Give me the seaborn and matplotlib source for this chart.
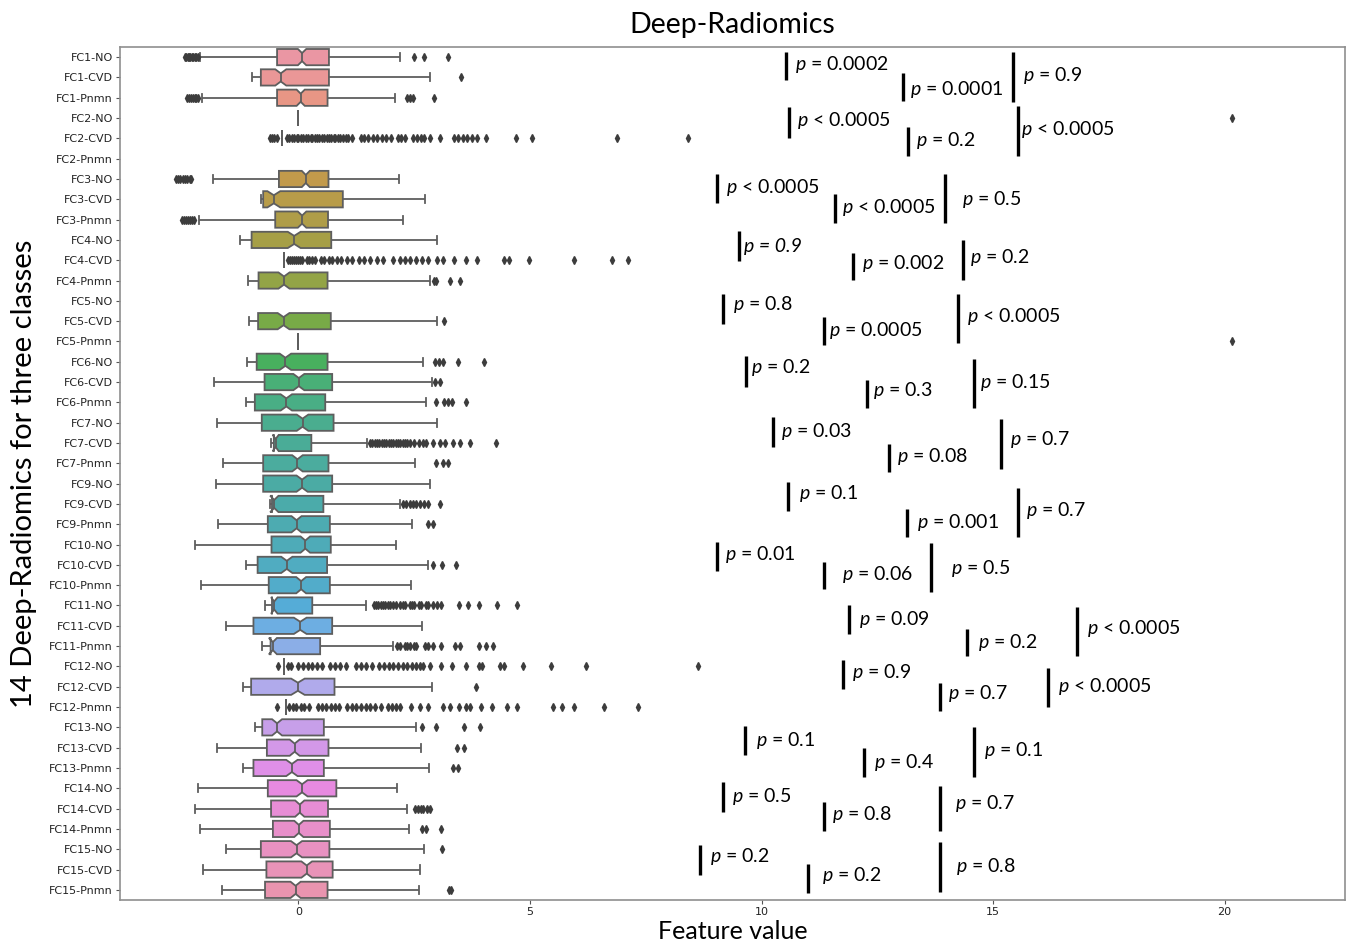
import numpy as np
import pandas as pd
import matplotlib
matplotlib.use('Agg')
import matplotlib.pyplot as plt
import seaborn as sns

features = ['FC1', 'FC2', 'FC3', 'FC4', 'FC5', 'FC6', 'FC7',
            'FC9', 'FC10', 'FC11', 'FC12', 'FC13', 'FC14', 'FC15']
classes = ['NO', 'CVD', 'Pnmn']
categories = [f'{f}-{c}' for f in features for c in classes]

nan = np.nan
# five-number summaries (whisker low, Q1, median, Q3, whisker high)
whis_low = [-2.13, -1.00, -2.08, 0.0, -0.35, nan, -1.84, -0.81, -2.15, -1.25, -0.31, -1.08,
            nan, -1.07, 0.0, -1.10, -1.83, -1.14, -1.76, -0.60, -1.62, -1.77, -0.62, -1.74,
            -2.24, -1.12, -2.10, -0.71, -1.56, -0.78, -0.30, -1.20, -0.26, -0.94, -1.76, -1.20,
            -2.17, -2.24, -2.13, -1.56, -2.07, -1.64]
q1 = [-0.46, -0.81, -0.46, 0.0, -0.35, nan, -0.42, -0.76, -0.50, -1.01, -0.31, -0.86,
      nan, -0.87, 0.0, -0.90, -0.73, -0.94, -0.79, -0.53, -0.76, -0.76, -0.57, -0.66,
      -0.58, -0.88, -0.64, -0.57, -0.97, -0.60, -0.30, -1.02, -0.26, -0.78, -0.68, -0.97,
      -0.66, -0.59, -0.55, -0.81, -0.69, -0.72]
median = [0.08, -0.38, 0.05, 0.0, -0.35, nan, 0.16, -0.53, 0.08, -0.09, -0.31, -0.31,
          nan, -0.32, 0.0, -0.28, 0.01, -0.26, 0.09, -0.49, -0.02, 0.08, -0.52, -0.04,
          0.15, -0.25, 0.06, -0.52, 0.04, -0.55, -0.30, -0.01, -0.26, -0.46, -0.08, -0.14,
          0.08, 0.03, 0.01, -0.04, 0.18, -0.06]
q3 = [0.66, 0.66, 0.63, 0.0, -0.35, nan, 0.65, 0.96, 0.64, 0.71, -0.31, 0.63,
      nan, 0.70, 0.0, 0.63, 0.73, 0.58, 0.76, 0.28, 0.65, 0.73, 0.54, 0.68,
      0.70, 0.62, 0.68, 0.30, 0.73, 0.47, -0.30, 0.78, -0.26, 0.55, 0.65, 0.55,
      0.82, 0.64, 0.68, 0.67, 0.74, 0.63]
whis_high = [2.20, 2.85, 2.09, 0.0, -0.35, nan, 2.17, 2.73, 2.26, 3.00, -0.31, 2.85,
             nan, 2.99, 0.0, 2.69, 2.89, 2.75, 3.00, 1.48, 2.52, 2.85, 2.20, 2.45,
             2.11, 2.80, 2.44, 1.45, 2.68, 2.05, -0.30, 2.88, -0.26, 2.53, 2.64, 2.82,
             2.14, 2.34, 2.38, 2.71, 2.63, 2.60]
outliers = [
    [-2.45, -2.42, -2.39, -2.36, -2.33, -2.30, -2.27, -2.24, -2.21, -2.17, 2.49, 2.71, 3.24],
    [3.51],
    [-2.40, -2.36, -2.32, -2.28, -2.24, -2.20, -2.16, 2.35, 2.40, 2.47, 2.92],
    [20.15],
    [-0.62, -0.57, -0.52, -0.47, -0.25, -0.2, -0.14, -0.1, -0.04, 0.0, 0.06, 0.1, 0.16, 0.2,
     0.27, 0.3, 0.36, 0.41, 0.45, 0.52, 0.55, 0.61, 0.66, 0.7, 0.76, 0.8, 0.86, 0.9, 0.97,
     1.02, 1.07, 1.15, 1.35, 1.42, 1.5, 1.62, 1.7, 1.8, 1.9, 2.0, 2.15, 2.22, 2.3, 2.48,
     2.56, 2.64, 2.72, 2.84, 3.06, 3.35, 3.45, 3.55, 3.65, 3.75, 3.85, 4.05, 4.70, 5.05,
     6.88, 8.42],
    [],
    [-2.65, -2.60, -2.55, -2.50, -2.45, -2.40, -2.35, -2.31],
    [],
    [-2.51, -2.46, -2.42, -2.38, -2.34, -2.30, -2.26],
    [],
    [-0.23, -0.18, -0.14, -0.1, -0.05, 0.0, 0.04, 0.07, 0.18, 0.22, 0.3, 0.36, 0.48, 0.55,
     0.66, 0.72, 0.83, 0.93, 1.05, 1.15, 1.3, 1.42, 1.55, 1.7, 1.82, 2.05, 2.2, 2.3, 2.42,
     2.55, 2.68, 2.8, 2.99, 3.12, 3.35, 3.62, 3.86, 4.43, 4.55, 4.98, 5.95, 6.78, 7.12],
    [2.92, 2.98, 3.27, 3.50],
    [],
    [3.14],
    [20.15],
    [2.96, 3.04, 3.12, 3.45, 4.01],
    [2.95, 3.05],
    [2.97, 3.14, 3.23, 3.31, 3.62],
    [],
    [1.55, 1.6, 1.65, 1.7, 1.75, 1.8, 1.85, 1.9, 1.95, 2.0, 2.05, 2.1, 2.15, 2.2, 2.25,
     2.3, 2.35, 2.4, 2.5, 2.6, 2.7, 2.75, 2.9, 3.05, 3.16, 3.34, 3.49, 3.70, 4.26],
    [2.97, 3.12, 3.23],
    [],
    [2.26, 2.33, 2.40, 2.47, 2.55, 2.63, 2.72, 2.80, 3.05],
    [2.80, 2.91],
    [],
    [2.90, 3.11, 3.40],
    [],
    [1.63, 1.68, 1.73, 1.78, 1.83, 1.88, 1.93, 1.98, 2.05, 2.1, 2.2, 2.25, 2.3, 2.4, 2.45,
     2.5, 2.6, 2.65, 2.75, 2.8, 2.9, 3.0, 3.08, 3.47, 3.66, 3.90, 4.29, 4.72],
    [],
    [2.12, 2.2, 2.3, 2.35, 2.4, 2.5, 2.55, 2.73, 2.80, 2.91, 3.09, 3.38, 3.49, 3.90, 4.06,
     4.20],
    [-0.45, -0.22, -0.15, 0.0, 0.1, 0.2, 0.3, 0.4, 0.5, 0.68, 0.8, 0.9, 1.02, 1.25, 1.35,
     1.45, 1.6, 1.75, 1.85, 1.95, 2.05, 2.15, 2.25, 2.35, 2.45, 2.55, 2.62, 2.7, 2.84,
     3.07, 3.32, 3.61, 3.90, 3.97, 4.35, 4.44, 4.84, 5.45, 6.21, 8.63],
    [3.84],
    [-0.46, -0.2, -0.12, -0.05, 0.05, 0.12, 0.22, 0.42, 0.5, 0.6, 0.7, 0.8, 0.88, 1.05,
     1.15, 1.25, 1.35, 1.45, 1.55, 1.65, 1.78, 1.93, 2.02, 2.1, 2.2, 2.44, 2.62, 2.80,
     3.12, 3.27, 3.47, 3.63, 3.71, 3.94, 4.19, 4.51, 4.72, 5.49, 5.70, 5.95, 6.60, 7.33],
    [2.66, 2.97, 3.58, 3.92],
    [3.42, 3.57],
    [3.34, 3.45],
    [],
    [2.52, 2.58, 2.64, 2.70, 2.77, 2.85],
    [2.66, 2.76, 3.07],
    [3.11],
    [],
    [3.25, 3.30],
]
n_per_class = 380

# pairwise test results, three per feature
p_text = ['= 0.0002', '= 0.0001', '= 0.9',
          '< 0.0005', '= 0.2', '< 0.0005',
          '< 0.0005', '< 0.0005', '= 0.5',
          '= 0.9', '= 0.002', '= 0.2',
          '= 0.8', '= 0.0005', '< 0.0005',
          '= 0.2', '= 0.3', '= 0.15',
          '= 0.03', '= 0.08', '= 0.7',
          '= 0.1', '= 0.001', '= 0.7',
          '= 0.01', '= 0.06', '= 0.5',
          '= 0.09', '= 0.2', '< 0.0005',
          '= 0.9', '= 0.7', '< 0.0005',
          '= 0.1', '= 0.4', '= 0.1',
          '= 0.5', '= 0.8', '= 0.7',
          '= 0.2', '= 0.2', '= 0.8']

# annotation layout (feature value units / category index)
bar_x = [10.52, 13.05, 15.43, 10.60, 13.17, 15.54, 9.03, 11.58, 13.96, 9.51, 11.98, 14.34,
         9.17, 11.35, 14.25, 9.66, 12.28, 14.59, 10.24, 12.76, 15.17, 10.58, 13.15, 15.53,
         9.04, 11.35, 13.66, 11.89, 14.44, 16.82, 11.76, 13.85, 16.19, 9.65, 12.22, 14.59,
         9.16, 11.35, 13.85, 8.68, 11.01, 13.85]
bar_top = [-0.23, 0.80, -0.23, 2.48, 3.42, 2.40, 5.77, 6.76, 5.77, 8.57, 9.64, 8.98,
           11.64, 12.79, 11.64, 14.74, 15.92, 14.85, 17.73, 19.04, 17.82, 20.90, 22.26, 21.20,
           23.89, 24.85, 23.94, 26.99, 28.14, 27.07, 29.66, 30.80, 30.08, 32.91, 34.01, 32.99,
           35.70, 36.69, 35.87, 38.79, 39.73, 38.66]
bar_bottom = [1.12, 2.16, 2.23, 3.96, 4.87, 4.87, 7.17, 8.16, 8.16, 10.05, 10.99, 10.95,
              13.12, 14.16, 14.07, 16.22, 17.28, 17.28, 19.18, 20.44, 20.28, 22.33, 23.65, 23.62,
              25.29, 26.20, 26.36, 28.42, 29.49, 29.49, 31.13, 32.17, 32.00, 34.34, 35.42, 35.42,
              37.18, 38.09, 38.09, 40.26, 41.18, 41.13]
label_x = [10.72, 13.20, 15.64, 10.76, 13.33, 15.60, 9.23, 11.73, 14.32, 9.62, 12.16, 14.50,
           9.39, 11.46, 14.44, 9.78, 12.41, 14.71, 10.43, 12.93, 15.36, 10.81, 13.35, 15.71,
           9.21, 11.73, 14.10, 12.10, 14.67, 17.03, 11.96, 14.03, 16.41, 9.88, 12.43, 14.81,
           9.37, 11.53, 14.17, 8.88, 11.30, 14.21]
label_y = [0.35, 1.58, 0.89, 3.14, 4.13, 3.55, 6.41, 7.41, 7.01, 9.31, 10.16, 9.88,
           12.19, 13.47, 12.79, 15.29, 16.43, 16.03, 18.45, 19.67, 18.85, 21.51, 22.89, 22.30,
           24.47, 25.46, 25.16, 27.68, 28.81, 28.12, 30.29, 31.33, 30.98, 33.65, 34.73, 34.14,
           36.41, 37.30, 36.75, 39.37, 40.31, 39.86]


# one sample per class, rebuilt from the summaries above
frames = []
for cat, lo, a, m, b, hi, fl in zip(categories, whis_low, q1, median, q3, whis_high, outliers):
    if np.isnan(m):
        continue
    k = (n_per_class - 2 - len(fl)) // 3
    vals = np.concatenate([[lo], np.repeat([a, m, b], k), [hi], fl])
    frames.append(pd.DataFrame({'category': cat, 'value': vals}))
df = pd.concat(frames, ignore_index=True)

plt.rcParams['mathtext.fontset'] = 'custom'
plt.rcParams['mathtext.rm'] = 'Lato'
plt.rcParams['mathtext.it'] = 'Lato:italic'

fig = plt.figure(figsize=(13.46, 9.43), dpi=100)
ax = fig.add_axes([0.0892, 0.0456, 0.9101, 0.9046])

palette = sns.husl_palette(len(categories), l=.7)
sns.boxplot(
    data=df,
    x='value',
    y='category',
    hue='category',
    order=categories,
    hue_order=categories,
    palette=palette,
    saturation=0.75,
    notch=True,
    width=0.8,
    linewidth=1.3,
    linecolor='#5e5e5e',
    fliersize=3.6,
    flierprops=dict(marker='d', markerfacecolor='#3c3c3c', markeredgecolor='#3c3c3c'),
    legend=False,
    ax=ax
)

for i, s in enumerate(p_text):
    ax.plot([bar_x[i], bar_x[i]], [bar_top[i], bar_bottom[i]],
            color='black', lw=2.4, solid_capstyle='butt', zorder=5)
    if i == 9:
        ax.text(label_x[i], label_y[i], 'p ' + s, fontsize=14, family='Lato',
                style='italic', ha='left', va='center')
    else:
        ax.text(label_x[i], label_y[i], '$p$ ' + s, fontsize=14, family='Lato',
                ha='left', va='center')

ax.set_xlim(-3.85, 22.6)
ax.set_ylim(41.5, -0.5)
ax.set_xticks([0, 5, 10, 15, 20])
ax.tick_params(axis='both', labelsize=8, length=3, pad=2, color='#555555', labelcolor='#222222')
for sp in ax.spines.values():
    sp.set_color('#8f8f8f')
    sp.set_linewidth(1.2)

ax.set_title('Deep-Radiomics', fontsize=20.5, family='Lato', pad=10)
ax.set_xlabel('Feature value', fontsize=18, family='Lato', labelpad=2)
ax.set_ylabel('14 Deep-Radiomics for three classes', fontsize=21, family='Lato', labelpad=9)

fig.savefig('out.png', dpi=100)
